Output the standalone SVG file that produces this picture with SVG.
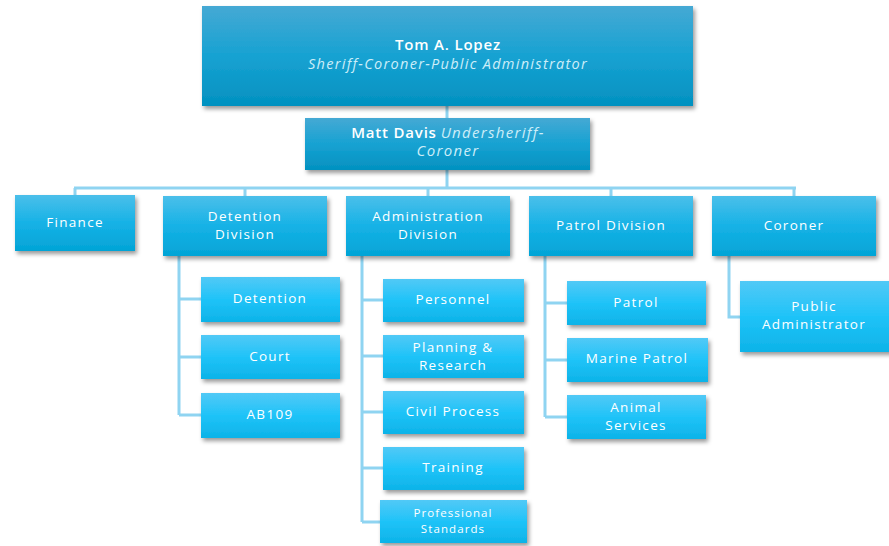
<svg xmlns="http://www.w3.org/2000/svg" width="889" height="546" viewBox="0 0 889 546">
<defs>
<linearGradient id="gTop" x1="0" y1="0" x2="0" y2="1">
<stop offset="0" stop-color="#45a9d4"/><stop offset="0.5" stop-color="#17a2d2"/><stop offset="1" stop-color="#0391c0"/>
</linearGradient>
<linearGradient id="gL2" x1="0" y1="0" x2="0" y2="1">
<stop offset="0" stop-color="#4bbfea"/><stop offset="0.5" stop-color="#16b2e6"/><stop offset="1" stop-color="#03a4d6"/>
</linearGradient>
<linearGradient id="gL3" x1="0" y1="0" x2="0" y2="1">
<stop offset="0" stop-color="#52c9f6"/><stop offset="0.5" stop-color="#1fc3f8"/><stop offset="1" stop-color="#0db3e8"/>
</linearGradient>
<filter id="sh" x="-10%" y="-10%" width="130%" height="140%">
<feDropShadow dx="2" dy="3" stdDeviation="2" flood-color="#000" flood-opacity="0.4"/>
</filter>
</defs>
<style>
.top{fill:url(#gTop);filter:url(#sh)}
.l2{fill:url(#gL2);filter:url(#sh)}
.l3{fill:url(#gL3);filter:url(#sh)}
text{font-family:"Open Sans","Noto Sans",sans-serif;fill:#ffffff;text-anchor:middle;dominant-baseline:central}
.t{font-size:13.5px;letter-spacing:1.3px}
.sm{font-size:11.5px;letter-spacing:1.1px}
.it{font-style:italic;fill:#cdeef9}
.conn{stroke:#8fd4f1;stroke-width:3;fill:none}
</style>
<rect width="889" height="546" fill="#ffffff"/>
<g id="connectors">
<path class="conn" d="M447 106V118M447 170V188M74 188H796M75 188V195M245 188V196M428 188V196M611 188V196M794 188V196"/>
<path class="conn" d="M179 256V415M179 299H201M179 357H201M179 415H201"/>
<path class="conn" d="M362 256V522M362 300H383M362 356H383M362 412H383M362 468H383M362 522H380"/>
<path class="conn" d="M545 256V417M545 303H567M545 360H567M545 417H567"/>
<path class="conn" d="M729 256V317H740"/>
</g>
<g id="sheriff">
<rect class="top" x="202" y="6" width="491" height="100"/>
<text x="448" y="44" style="font-size:15px;font-weight:600;letter-spacing:0.8px">Tom A. Lopez</text>
<text class="it" x="448" y="63" style="font-size:14.5px;letter-spacing:1.3px">Sheriff-Coroner-Public Administrator</text>
</g>
<g id="undersheriff">
<rect class="top" x="305" y="118" width="285" height="52"/>
<text x="448" y="132" style="font-size:15px"><tspan style="font-weight:600;letter-spacing:0.8px">Matt Davis</tspan> <tspan style="font-style:italic;fill:#cdeef9;letter-spacing:1.3px">Undersheriff-</tspan></text>
<text class="it" x="448" y="150" style="font-size:15px;letter-spacing:1.3px">Coroner</text>
</g>
<g id="finance">
<rect class="l2" x="15" y="195" width="120" height="56"/>
<text class="t" x="75" y="222">Finance</text>
</g>
<g id="detention-division">
<rect class="l2" x="163" y="196" width="164" height="60"/>
<text class="t" x="245" y="215.5">Detention</text>
<text class="t" x="245" y="233.5">Division</text>
</g>
<g id="administration-division">
<rect class="l2" x="346" y="196" width="164" height="60"/>
<text class="t" x="428" y="215.5">Administration</text>
<text class="t" x="428" y="233.5">Division</text>
</g>
<g id="patrol-division">
<rect class="l2" x="529" y="196" width="164" height="60"/>
<text class="t" x="611" y="225">Patrol Division</text>
</g>
<g id="coroner">
<rect class="l2" x="712" y="196" width="164" height="60"/>
<text class="t" x="794" y="225">Coroner</text>
</g>
<g id="detention">
<rect class="l3" x="201" y="277" width="139" height="45"/>
<text class="t" x="270" y="298">Detention</text>
</g>
<g id="court">
<rect class="l3" x="201" y="335" width="139" height="44"/>
<text class="t" x="270" y="356">Court</text>
</g>
<g id="ab109">
<rect class="l3" x="201" y="393" width="139" height="45"/>
<text class="t" x="270" y="414">AB109</text>
</g>
<g id="personnel">
<rect class="l3" x="383" y="279" width="141" height="43"/>
<text class="t" x="453" y="299">Personnel</text>
</g>
<g id="planning-research">
<rect class="l3" x="383" y="335" width="141" height="43"/>
<text class="t" x="453" y="346.5">Planning &amp;</text>
<text class="t" x="453" y="364.5">Research</text>
</g>
<g id="civil-process">
<rect class="l3" x="383" y="391" width="141" height="43"/>
<text class="t" x="453" y="411">Civil Process</text>
</g>
<g id="training">
<rect class="l3" x="383" y="447" width="141" height="43"/>
<text class="t" x="453" y="467">Training</text>
</g>
<g id="professional-standards">
<rect class="l3" x="380" y="500" width="147" height="43"/>
<text class="sm" x="453" y="512.5">Professional</text>
<text class="sm" x="453" y="528.5">Standards</text>
</g>
<g id="patrol">
<rect class="l3" x="567" y="281" width="139" height="44"/>
<text class="t" x="636" y="302">Patrol</text>
</g>
<g id="marine-patrol">
<rect class="l3" x="567" y="338" width="141" height="44"/>
<text class="t" x="637" y="358">Marine Patrol</text>
</g>
<g id="animal-services">
<rect class="l3" x="567" y="395" width="139" height="44"/>
<text class="t" x="636" y="406.5">Animal</text>
<text class="t" x="636" y="424.5">Services</text>
</g>
<g id="public-administrator">
<rect class="l3" x="740" y="281" width="152" height="71"/>
<text class="t" x="814" y="306">Public</text>
<text class="t" x="814" y="324">Administrator</text>
</g>
</svg>
